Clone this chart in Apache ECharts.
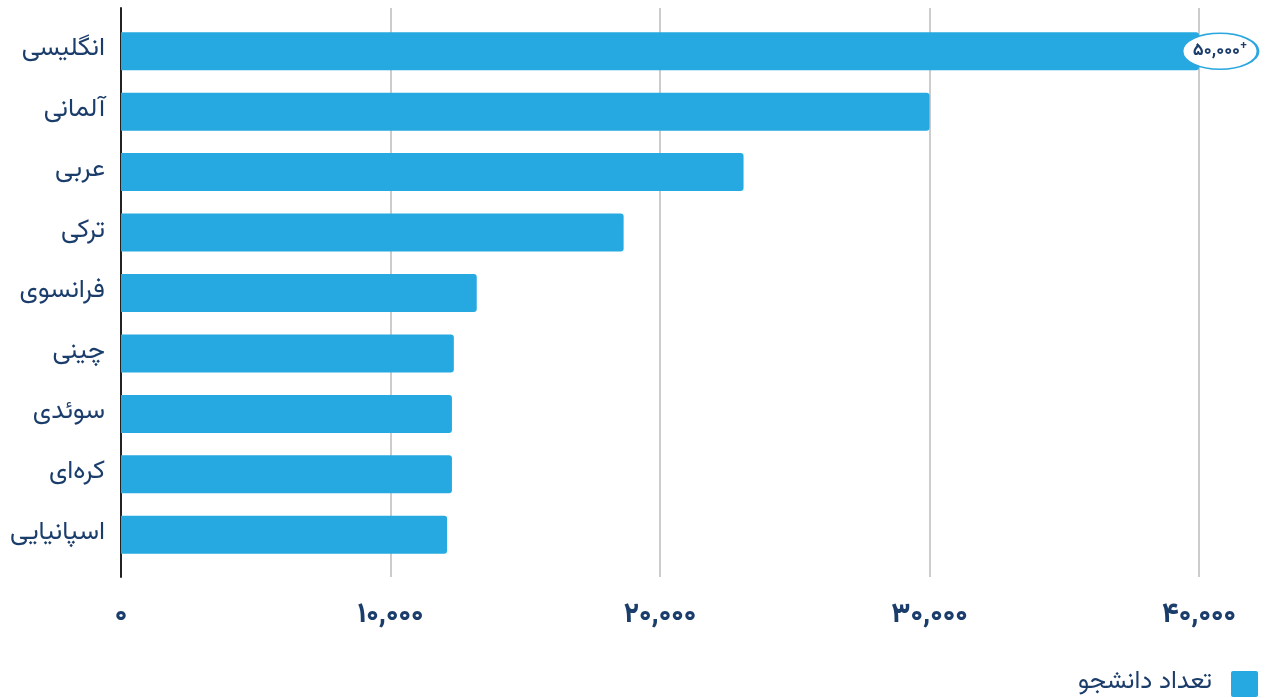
<!DOCTYPE html>
<html><head><meta charset="utf-8">
<script src="https://cdn.jsdelivr.net/npm/echarts@6/dist/echarts.min.js"></script>
<style>html,body{margin:0;padding:0;background:#fff}#c{width:1270px;height:698px}</style>
</head><body><div id="c"></div>
<script>
const categories = ['انگلیسی','آلمانی','عربی','ترکی','فرانسوی','چینی','سوئدی','کره‌ای','اسپانیایی'];
const students = [50000, 30000, 23100, 18650, 13200, 12350, 12280, 12280, 12100];
const seriesName = 'تعداد دانشجو';
const xTicks = [0, 10000, 20000, 30000, 40000];
const topLabel = '۵۰,۰۰۰';

const FONT = 'Vazirmatn, "DejaVu Sans", sans-serif';
const NAVY = '#1b3d6b';
const BLUE = '#26a9e0';
function fa(n){
  const s = Number(n).toLocaleString('en-US');
  return s.replace(/\d/g, d => '۰۱۲۳۴۵۶۷۸۹'[d]);
}

const chart = echarts.init(document.getElementById('c'), null, {renderer:'canvas'});
chart.setOption({
  animation: false,
  grid: [
    {left: 121, right: 71, top: 8, bottom: 121},
    {left: 121, right: 71, top: 21, bottom: 133}
  ],
  legend: {
    right: 7, bottom: -4, align: 'right', itemWidth: 27, itemHeight: 26, itemGap: 20,
    icon: 'path://M2,0 L25,0 Q27,0 27,2 L27,24 Q27,26 25,26 L2,26 Q0,26 0,24 L0,2 Q0,0 2,0 Z',
    textStyle: {fontFamily: FONT, fontSize: 25, color: NAVY, padding: [0, 14, 0, 0]},
    data: [seriesName]
  },
  xAxis: [
    {type: 'value', gridIndex: 0, min: 0, max: 40000, interval: 10000,
     axisLine: {show: false}, axisTick: {show: false},
     splitLine: {show: true, lineStyle: {color: '#cccccc', width: 2}},
     axisLabel: {margin: 27, fontFamily: FONT, fontSize: 28, fontWeight: 800, color: NAVY,
       formatter: v => xTicks.includes(v) ? fa(v) : ''}},
    {type: 'value', gridIndex: 1, min: 0, max: 40000, interval: 10000, show: false}
  ],
  yAxis: [
    {type: 'value', gridIndex: 0, min: 0, max: 1,
     axisLine: {show: true, lineStyle: {color: '#222', width: 2}},
     axisTick: {show: false}, axisLabel: {show: false}, splitLine: {show: false}},
    {type: 'category', gridIndex: 1, inverse: true, data: categories,
     axisLine: {show: false}, axisTick: {show: false},
     axisLabel: {margin: 16, fontFamily: FONT, fontSize: 26, color: NAVY}}
  ],
  series: [{
    name: seriesName, type: 'bar', xAxisIndex: 1, yAxisIndex: 1,
    barWidth: 38, clip: true, data: students,
    itemStyle: {color: BLUE, borderRadius: [0, 3, 3, 0]},
    markPoint: {
      silent: true,
      symbol: 'circle', symbolSize: [76, 36], symbolOffset: [21, 0],
      itemStyle: {color: '#fff', borderColor: '#2aa7e0', borderWidth: 2},
      label: {
        show: true, position: 'inside', offset: [0, 1],
        formatter: '{n|' + topLabel + '}{p|+}',
        rich: {
          n: {fontFamily: FONT, fontSize: 18, fontWeight: 'bold', color: NAVY},
          p: {fontFamily: FONT, fontSize: 13, fontWeight: 'bold', color: NAVY, padding: [0,0,12,0]}
        }
      },
      data: [{coord: [xTicks[xTicks.length - 1], categories[0]]}]
    }
  }]
});
</script></body></html>
